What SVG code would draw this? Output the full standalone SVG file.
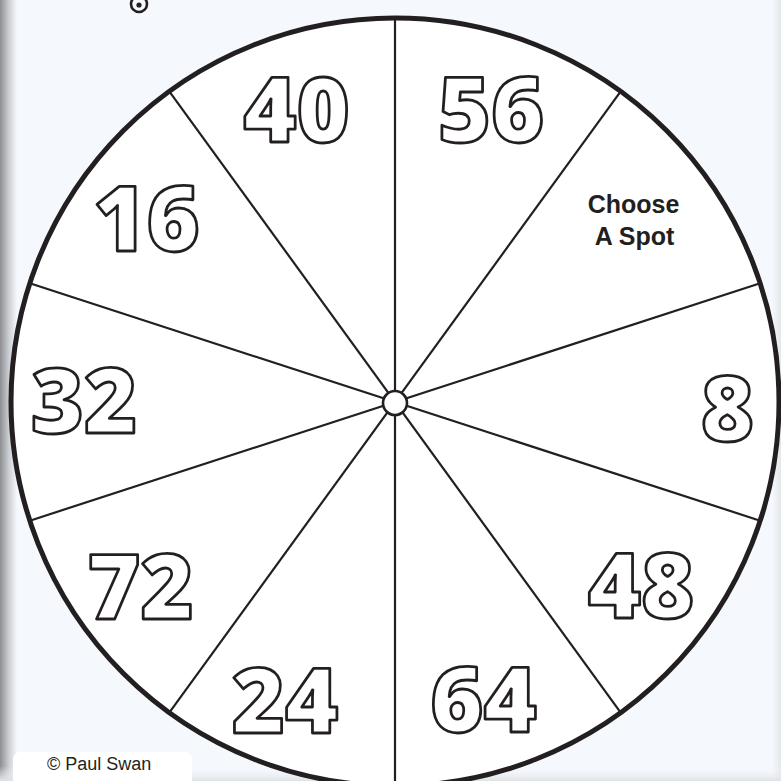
<svg xmlns="http://www.w3.org/2000/svg" width="781" height="781" viewBox="0 0 781 781">
  <defs>
    <linearGradient id="leftShade" x1="0" y1="0" x2="1" y2="0">
      <stop offset="0" stop-color="#8c8d90"/>
      <stop offset="0.5" stop-color="#c9ccd0"/>
      <stop offset="1" stop-color="#f5f9fd"/>
    </linearGradient>
    <linearGradient id="rightShade" x1="0" y1="0" x2="1" y2="0">
      <stop offset="0" stop-color="#f5f9fd"/>
      <stop offset="1" stop-color="#e4e7ea"/>
    </linearGradient>
    <linearGradient id="bottomShade" x1="0" y1="0" x2="0" y2="1">
      <stop offset="0" stop-color="#f5f9fd" stop-opacity="0"/>
      <stop offset="1" stop-color="#dfe2e5"/>
    </linearGradient>
    <clipPath id="wheelClip">
      <circle cx="395" cy="402" r="384"/>
    </clipPath>
  </defs>
  <style>
    .num { font-family: "Open Sans", "Liberation Sans", sans-serif; font-weight: 800; font-size: 91px; fill: #ffffff; stroke: #231f20; stroke-width: 2.8; text-anchor: middle; stroke-linejoin: round; }
    .spoke { stroke: #231f20; stroke-width: 2.2; fill: none; }
    .label { font-family: "Liberation Sans", Arial, sans-serif; font-weight: 700; font-size: 25px; fill: #231f20; text-anchor: middle; }
  </style>

  <!-- background -->
  <rect x="0" y="0" width="781" height="781" fill="#f5f9fd"/>
  <rect x="0" y="0" width="17" height="781" fill="url(#leftShade)"/>
  <rect x="772" y="0" width="9" height="781" fill="url(#rightShade)"/>
  <rect x="0" y="766" width="781" height="15" fill="url(#bottomShade)"/>

  <!-- small mark at top -->
  <g id="top-mark">
    <circle cx="139" cy="4" r="8" fill="none" stroke="#231f20" stroke-width="2.6"/>
    <circle cx="139" cy="5" r="2.6" fill="#231f20"/>
  </g>

  <!-- wheel -->
  <g id="wheel">
    <circle cx="395" cy="402" r="384" fill="#ffffff"/>
  </g>

  <g id="connectors" clip-path="url(#wheelClip)">
    <line class="spoke" x1="395" y1="14" x2="395" y2="790"/>
    <line class="spoke" x1="620.7" y1="91.3" x2="169.3" y2="712.7"/>
    <line class="spoke" x1="760.2" y1="283.3" x2="29.8" y2="520.7"/>
    <line class="spoke" x1="760.2" y1="520.7" x2="29.8" y2="283.3"/>
    <line class="spoke" x1="620.7" y1="712.7" x2="169.3" y2="91.3"/>
  </g>

  <g id="rim">
    <circle cx="395" cy="402" r="384" fill="none" stroke="#231f20" stroke-width="5"/>
  </g>

  <g id="hub">
    <circle cx="395" cy="403" r="12" fill="#ffffff" stroke="#231f20" stroke-width="2.6"/>
  </g>

  <g id="seg-40"><text class="num" x="296.5" y="142">40</text></g>
  <g id="seg-56"><text class="num" x="491" y="142">56</text></g>
  <g id="seg-choose">
    <text class="label" x="633.5" y="213">Choose</text>
    <text class="label" x="634.5" y="245">A Spot</text>
  </g>
  <g id="seg-16"><text class="num" x="146.5" y="251">16</text></g>
  <g id="seg-32"><text class="num" x="84" y="433">32</text></g>
  <g id="seg-8"><text class="num" x="727.5" y="441">8</text></g>
  <g id="seg-48"><text class="num" x="641" y="618">48</text></g>
  <g id="seg-72"><text class="num" x="140.5" y="619">72</text></g>
  <g id="seg-24"><text class="num" x="285" y="733">24</text></g>
  <g id="seg-64"><text class="num" x="483.5" y="732">64</text></g>

  <g id="credit">
    <rect x="13" y="752" width="179" height="40" rx="7" fill="#ffffff"/>
    <text x="47" y="770" font-family="'Liberation Sans', Arial, sans-serif" font-size="18" fill="#231f20">© Paul Swan</text>
  </g>
</svg>
